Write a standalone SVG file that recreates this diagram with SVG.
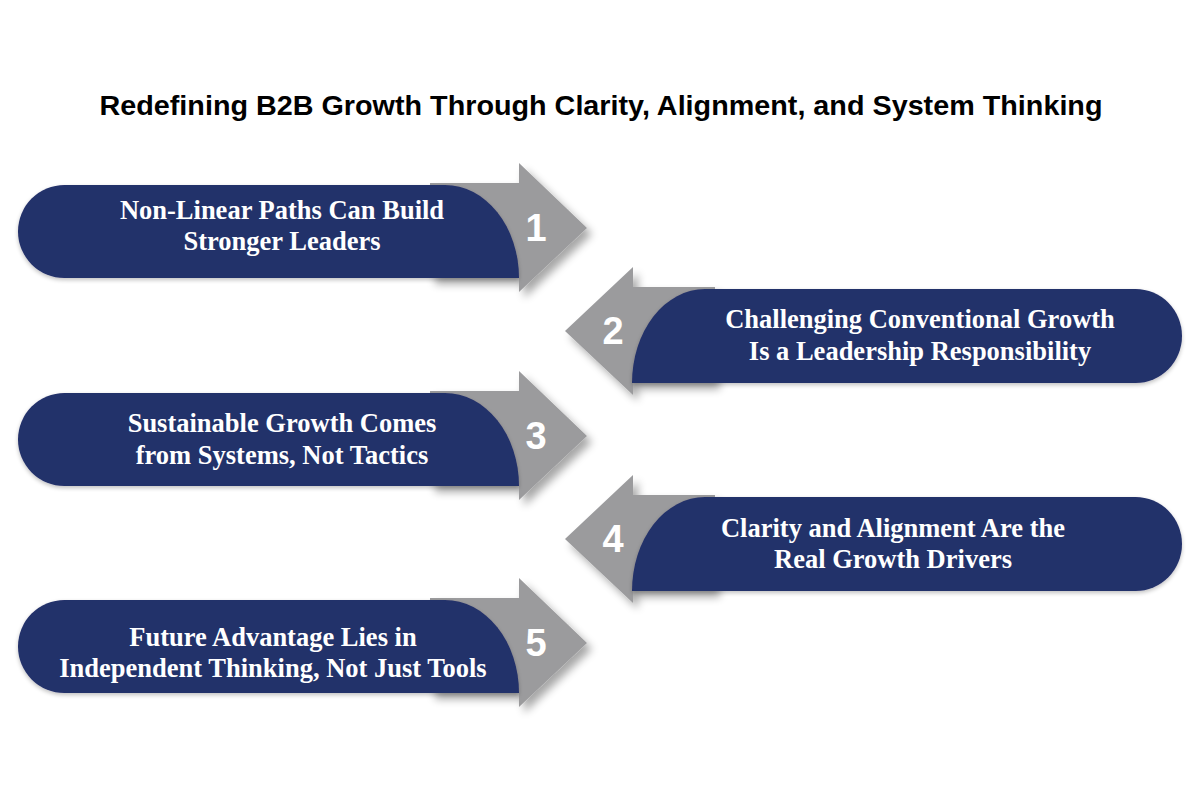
<svg xmlns="http://www.w3.org/2000/svg" width="1200" height="800" viewBox="0 0 1200 800">
<defs>
<filter id="sh" x="-20%" y="-20%" width="150%" height="150%">
<feGaussianBlur in="SourceAlpha" stdDeviation="4"/>
<feOffset dx="5" dy="6" result="b"/>
<feComponentTransfer><feFuncA type="linear" slope="0.35"/></feComponentTransfer>
<feMerge><feMergeNode/><feMergeNode in="SourceGraphic"/></feMerge>
</filter>
<filter id="sh2" x="-10%" y="-20%" width="120%" height="150%">
<feGaussianBlur in="SourceAlpha" stdDeviation="2"/>
<feOffset dx="0" dy="2" result="b"/>
<feComponentTransfer><feFuncA type="linear" slope="0.25"/></feComponentTransfer>
<feMerge><feMergeNode/><feMergeNode in="SourceGraphic"/></feMerge>
</filter>
</defs>
<style>
.arrow{fill:#9b9b9d;filter:url(#sh)}
.pill{fill:#24306a;filter:url(#sh2)}
.lbl{font-family:"Liberation Serif","Times New Roman",serif;font-weight:bold;font-size:26.5px;fill:#ffffff;text-anchor:middle}
.num{font-family:"Liberation Sans",Arial,sans-serif;font-weight:bold;font-size:38px;fill:#ffffff;text-anchor:middle}
.title{font-family:"Liberation Sans",Arial,sans-serif;font-weight:bold;font-size:27px;fill:#000000;text-anchor:middle}
</style>
<rect width="1200" height="800" fill="#ffffff"/>
<g id="title"><text class="title" x="601" y="115" textLength="1003" lengthAdjust="spacingAndGlyphs">Redefining B2B Growth Through Clarity, Alignment, and System Thinking</text></g>
<g id="connectors"></g>
<g id="step1">
<path class="arrow" d="M430 183H519V163L587 228L519 292V278H430Z"/>
<path class="pill" d="M64.5 185H445A74 93 0 0 1 519 278H64.5A46.5 46.5 0 0 1 64.5 185Z"/>
<text class="num" x="536" y="241">1</text>
<text class="lbl" x="282" y="219">Non-Linear Paths Can Build</text>
<text class="lbl" x="282" y="250">Stronger Leaders</text>
</g>
<g id="step2">
<path class="arrow" d="M715 287H633V267L565 331L633 395V383H715Z"/>
<path class="pill" d="M1135.5 289A46.5 47 0 0 1 1135.5 383H632A73 94 0 0 1 705 289Z"/>
<text class="num" x="613" y="344">2</text>
<text class="lbl" x="920" y="328">Challenging Conventional Growth</text>
<text class="lbl" x="920" y="360">Is a Leadership Responsibility</text>
</g>
<g id="step3" transform="translate(0 208)">
<path class="arrow" d="M430 183H519V163L587 228L519 292V278H430Z"/>
<path class="pill" d="M64.5 185H445A74 93 0 0 1 519 278H64.5A46.5 46.5 0 0 1 64.5 185Z"/>
<text class="num" x="536" y="241">3</text>
<text class="lbl" x="282" y="224">Sustainable Growth Comes</text>
<text class="lbl" x="282" y="256">from Systems, Not Tactics</text>
</g>
<g id="step4" transform="translate(0 208)">
<path class="arrow" d="M715 287H633V267L565 331L633 395V383H715Z"/>
<path class="pill" d="M1135.5 289A46.5 47 0 0 1 1135.5 383H632A73 94 0 0 1 705 289Z"/>
<text class="num" x="613" y="344">4</text>
<text class="lbl" x="893" y="329">Clarity and Alignment Are the</text>
<text class="lbl" x="893" y="360">Real Growth Drivers</text>
</g>
<g id="step5" transform="translate(0 415)">
<path class="arrow" d="M430 183H519V163L587 228L519 292V278H430Z"/>
<path class="pill" d="M64.5 185H445A74 93 0 0 1 519 278H64.5A46.5 46.5 0 0 1 64.5 185Z"/>
<text class="num" x="536" y="241">5</text>
<text class="lbl" x="273" y="231">Future Advantage Lies in</text>
<text class="lbl" x="273" y="262">Independent Thinking, Not Just Tools</text>
</g>
</svg>
